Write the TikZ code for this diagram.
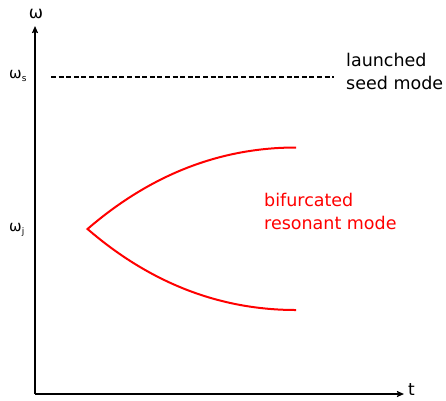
\documentclass[tikz,border=0pt]{standalone}
\usepackage{fontspec}
\setmainfont{DejaVu Sans}
\usetikzlibrary{arrows.meta}
\tikzset{
  axis/.style={line width=1.8pt,-{Stealth[length=7pt,width=6pt,inset=1pt]}},
  lbl/.style={inner sep=0pt,font=\fontsize{17.5}{22.5}\selectfont,align=left},
  sym/.style={inner sep=0pt,font=\fontsize{15}{17}\selectfont},
  branch/.style={red,line width=2pt},
  seed/.style={line width=1.6pt,dash pattern=on 5pt off 2.6pt}
}
\begin{document}
\begin{tikzpicture}[x=1pt,y=-1pt]
\useasboundingbox (0,0) rectangle (446,400);
\coordinate (O) at (35,394);
\coordinate (Ytop) at (35,26);
\coordinate (Xend) at (404,394);
\draw[axis] (O) -- (Ytop);
\draw[axis] (O) -- (Xend);
\node[inner sep=0pt,font=\fontsize{17}{20}\selectfont] (wlab) at (36,14) {ω};
\node[inner sep=0pt,font=\fontsize{17}{20}\selectfont,anchor=west] (tlab) at (408,390) {t};
\node[sym,anchor=base west] (ws) at (9,78) {ω\raisebox{-3pt}{\fontsize{9}{10}\selectfont s}};
\node[sym,anchor=base west] (wj) at (9,231) {ω\raisebox{-3pt}{\fontsize{9}{10}\selectfont j}};
\coordinate (d1) at (51,77);
\coordinate (d2) at (334,77);
\draw[seed] (d1) -- (d2);
\node[lbl,anchor=north west] (seedtxt) at (346,53) {launched\\seed mode};
\coordinate (apex) at (87.5,229);
\coordinate (up) at (296,147.5);
\coordinate (lo) at (296,310);
\draw[branch,line join=miter] (up) .. controls (220,147.5) and (150.5,174.7) .. (apex) .. controls (150.5,283.3) and (220,310) .. (lo);
\node[lbl,red,anchor=north west] (bif) at (264,193) {bifurcated\\resonant mode};
\end{tikzpicture}
\end{document}
